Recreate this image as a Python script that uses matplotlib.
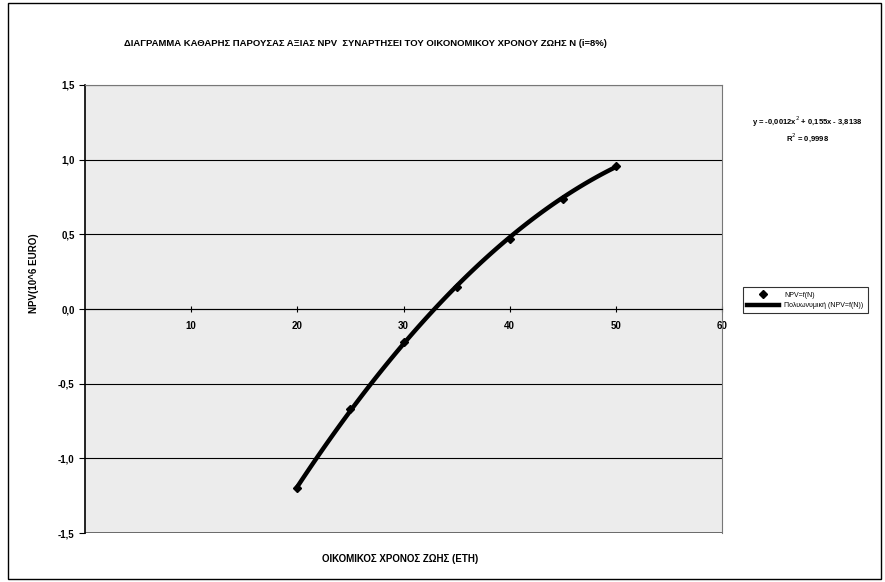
import numpy as np
import matplotlib.pyplot as plt
from matplotlib.patches import Rectangle
from matplotlib.ticker import FuncFormatter

plt.rcParams['font.family'] = ['Liberation Sans', 'DejaVu Sans']

# data
years = [20, 25, 30, 35, 40, 45, 50]
npv = [-1.20, -0.67, -0.22, 0.15, 0.47, 0.74, 0.96]
x_ticks = [10, 20, 30, 40, 50, 60]
y_ticks = [-1.5, -1.0, -0.5, 0.0, 0.5, 1.0, 1.5]

title = "ΔΙΑΓΡΑΜΜΑ ΚΑΘΑΡΗΣ ΠΑΡΟΥΣΑΣ ΑΞΙΑΣ NPV  ΣΥΝΑΡΤΗΣΕΙ ΤΟΥ ΟΙΚΟΝΟΜΙΚΟΥ ΧΡΟΝΟΥ ΖΩΗΣ Ν (i=8%)"
xlabel = "ΟΙΚΟΜΙΚΟΣ ΧΡΟΝΟΣ ΖΩΗΣ (ΕΤΗ)"
ylabel = "NPV(10^6 EURO)"
eq_text = "y = -0,0012x$^2$ + 0,155x - 3,8138\nR$^2$ = 0,9998"

fig = plt.figure(figsize=(8.85, 5.82), dpi=100)
ax = fig.add_axes([0.096, 0.084, 0.72, 0.77])
ax.set_facecolor('#ececec')

# polynomial trendline (2nd order) from the points
coef = np.polyfit(years, npv, 2)
xs = np.linspace(min(years), max(years), 100)
ax.plot(xs, np.polyval(coef, xs), color='black', lw=3.2, zorder=3,
        label='Πολυωνυμική (NPV=f(N))')
ax.plot(years, npv, linestyle='none', marker='D', ms=4.5, color='black',
        zorder=4, label='NPV=f(N)')

ax.set_xlim(0, 60)
ax.set_ylim(-1.5, 1.5)
ax.set_yticks(y_ticks)
ax.set_xticks(x_ticks)
ax.yaxis.set_major_formatter(FuncFormatter(lambda v, p: f"{v:.1f}".replace('.', ',')))
ax.grid(axis='y', color='black', lw=0.8)
ax.set_axisbelow(True)

ax.spines['bottom'].set_position(('data', 0))
for s in ['top', 'right']:
    ax.spines[s].set_color('#777777')
ax.spines['left'].set_linewidth(1.2)
ax.tick_params(axis='x', direction='inout', length=5, labelsize=7, pad=6)
ax.tick_params(axis='y', length=4, labelsize=7)
for lab in ax.get_xticklabels() + ax.get_yticklabels():
    lab.set_fontweight('bold')
# bottom border of plot area
ax.axhline(-1.5, color='#555555', lw=1.2)

fig.text(0.038, 0.53, ylabel, rotation=90, ha='center', va='center',
         fontsize=7, fontweight='bold')
fig.text(0.452, 0.040, xlabel, ha='center', va='center', fontsize=7, fontweight='bold')
fig.text(0.413, 0.925, title, ha='center', va='center', fontsize=6.8, fontweight='bold')
fig.text(0.912, 0.778, eq_text, ha='center', va='center', fontsize=5.5,
         fontweight='bold', linespacing=1.3)

handles, labels = ax.get_legend_handles_labels()
leg = fig.legend(handles[::-1], labels[::-1], loc='upper left',
                 bbox_to_anchor=(0.836, 0.512), fontsize=5, frameon=True,
                 fancybox=False, edgecolor='black', handlelength=4.5, borderpad=0.6)
leg.get_frame().set_linewidth(0.8)

fig.patches.append(Rectangle((0.009, 0.006), 0.987, 0.988, transform=fig.transFigure,
                             fill=False, edgecolor='black', lw=1))

fig.savefig("out.png", dpi=100)
plt.close(fig)
